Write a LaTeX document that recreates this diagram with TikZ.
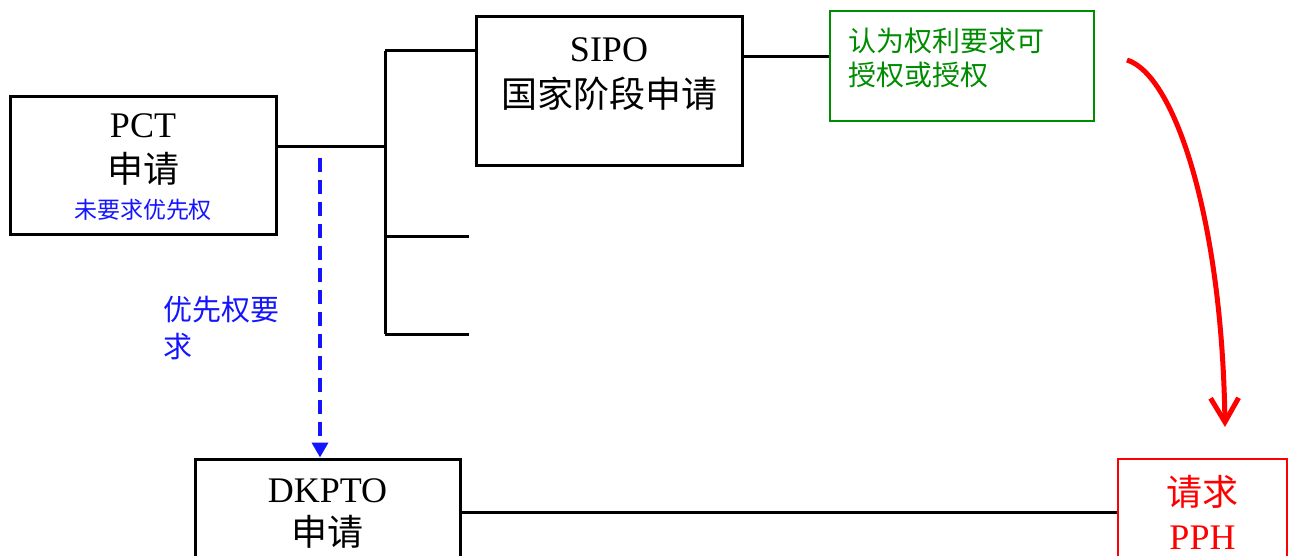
\documentclass[tikz,border=0pt]{standalone}
\usepackage{fontspec}
\setmainfont{Liberation Serif}
\newfontfamily\cjk{Noto Sans CJK SC}
\newcommand{\zh}[1]{{\cjk #1}}
\usetikzlibrary{arrows.meta,positioning}
\definecolor{prioblue}{RGB}{20,20,255}
\definecolor{grantgreen}{RGB}{0,140,0}

\tikzset{
  box/.style={draw, line width=3pt, minimum width=266pt, align=center, inner sep=0pt,
    font=\fontsize{36}{45}\selectfont},
  wire/.style={line width=3pt},
}

\begin{document}
\begin{tikzpicture}[x=1pt,y=-1pt]
\useasboundingbox (0,0) rectangle (1294,556);

% offices and applications
\node[box, minimum height=138pt, text depth=-6pt] (pct) at (143,166)
  {PCT\\[0pt]\zh{申请}\\[-9pt]{\color{prioblue}\fontsize{23}{28}\selectfont\zh{未要求优先权}}};
\node[box, minimum height=149pt, text depth=37pt] (sipo) at (609,91.5)
  {SIPO\\[1pt]\zh{国家阶段申请}};
\node[draw=grantgreen, line width=2pt, minimum width=264pt, minimum height=110pt,
  text width=228pt, inner xsep=18pt, align=left, text depth=52pt, text=grantgreen,
  font=\fontsize{28}{34}\selectfont] (grant) at (962,66)
  {\zh{认为权利要求可}\\\zh{授权或授权}};
\node[box, minimum width=265pt, minimum height=106pt, text depth=-4pt] (dkpto) at (327.5,512)
  {DKPTO\\[-2pt]\zh{申请}};
\node[box, draw=red, line width=2pt, minimum width=169pt, minimum height=106pt, text=red]
  (pph) at (1202.5,512) {\zh{请求}\\[-1pt]PPH};

% bus to national phases
\coordinate (bustop) at (385,51);
\coordinate (busbot) at (385,334);
\coordinate (branchb) at (469,237);
\coordinate (branchc) at (469,334);
\draw[wire] (pct.east |- 0,147) -- (bustop |- 0,147);
\draw[wire] (bustop) -- (busbot);
\draw[wire] (bustop) -- (bustop -| sipo.west);
\draw[wire] (bustop |- branchb) -- (branchb);
\draw[wire] (busbot) -- (branchc);
\draw[wire] (sipo.east |- 0,57) -- (grant.west |- 0,57);
\draw[wire] (dkpto.east) -- (pph.west);

% priority claim
\coordinate (prio) at (320,158);
\draw[prioblue, line width=3.5pt, dash pattern=on 14pt off 8pt,
  -{Triangle[length=15pt,width=16pt]}] (prio) -- (prio |- dkpto.north);
\node[anchor=north west, align=left, inner sep=0pt, text=prioblue,
  font=\fontsize{29}{37}\selectfont] (priolabel) at (163,296) {\zh{优先权要}\\\zh{求}};

% request PPH
\coordinate (curvestart) at (1127,60);
\coordinate (curveend) at (1225,427);
\draw[red, line width=5pt, -{Straight Barb[length=24pt,width=28pt]}]
  (curvestart) .. controls (1175,75) and (1222,220) .. (curveend);
\end{tikzpicture}
\end{document}
